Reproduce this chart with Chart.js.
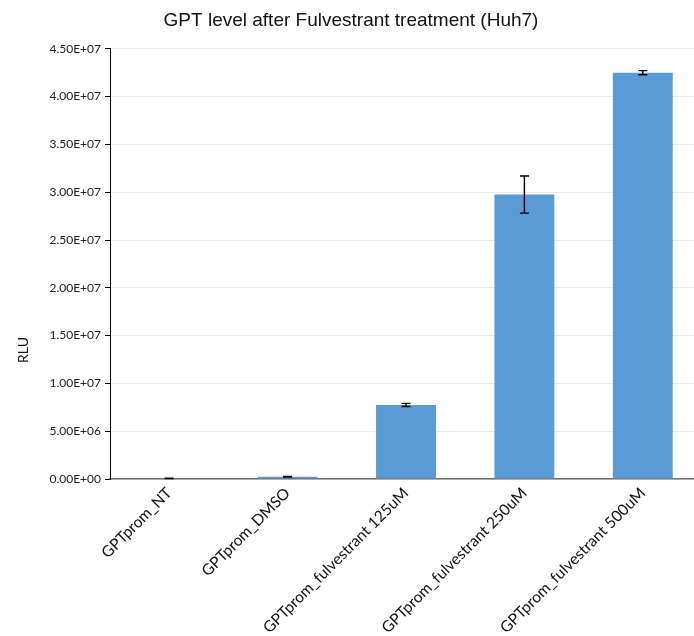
<!DOCTYPE html>
<html>
<head>
<meta charset="utf-8">
<script src="https://cdn.jsdelivr.net/npm/chart.js@4/dist/chart.umd.min.js"></script>
<style>
  html, body { margin: 0; padding: 0; background: #fff; overflow: hidden; }
  #wrap { width: 713px; height: 636px; }
</style>
</head>
<body>
<div id="wrap"><canvas id="c" width="713" height="636"></canvas></div>
<script>
// Luciferase readout (RLU) per condition, mean and error
const categories = [
  "GPTprom_NT",
  "GPTprom_DMSO",
  "GPTprom_fulvestrant 125uM",
  "GPTprom_fulvestrant 250uM",
  "GPTprom_fulvestrant 500uM"
];
const rluMean  = [60000, 230000, 7750000, 29750000, 42500000];
const rluError = [15000, 25000, 160000, 1940000, 220000];
const yTicks = { min: 0, max: 45000000, step: 5000000 };
const yAxisName = 'RLU';

// Format numbers like 4.50E+07
function sci(v) {
  return Number(v).toExponential(2).toUpperCase()
    .replace(/E([+-])(\d)$/, 'E$10$2');
}

// Draws error bars (whiskers with caps) using the chart's own scales
const errorBars = {
  id: 'errorBars',
  afterDatasetsDraw(chart) {
    const ctx = chart.ctx;
    const meta = chart.getDatasetMeta(0);
    const y = chart.scales.y;
    ctx.save();
    ctx.strokeStyle = '#000';
    ctx.lineWidth = 1.4;
    meta.data.forEach((bar, i) => {
      const x = bar.x;
      const top = y.getPixelForValue(rluMean[i] + rluError[i]);
      const bot = y.getPixelForValue(rluMean[i] - rluError[i]);
      const cap = 4.5;
      ctx.beginPath();
      ctx.moveTo(x, top); ctx.lineTo(x, bot);
      ctx.moveTo(x - cap, top); ctx.lineTo(x + cap, top);
      ctx.moveTo(x - cap, bot); ctx.lineTo(x + cap, bot);
      ctx.stroke();
    });
    ctx.restore();
  }
};

// Vertical y-axis name, set in the lower part of the value axis
const yAxisTitle = {
  id: 'yAxisTitle',
  afterDraw(chart) {
    const ctx = chart.ctx;
    const area = chart.chartArea;
    ctx.save();
    ctx.translate(23, area.bottom - 129);
    ctx.rotate(-Math.PI / 2);
    ctx.fillStyle = '#111';
    ctx.font = '14px Lato, sans-serif';
    ctx.textAlign = 'center';
    ctx.textBaseline = 'middle';
    ctx.fillText(yAxisName, 0, 0);
    ctx.restore();
  }
};

new Chart(document.getElementById('c'), {
  type: 'bar',
  data: {
    labels: categories,
    datasets: [{
      data: rluMean,
      backgroundColor: '#5b9bd5',
      borderWidth: 0,
      categoryPercentage: 1.0,
      barPercentage: 0.506
    }]
  },
  options: {
    responsive: false,
    animation: false,
    devicePixelRatio: 1,
    layout: { padding: { left: 0, right: 11, top: 0, bottom: 0 } },
    plugins: {
      legend: { display: false },
      tooltip: { enabled: false },
      title: {
        display: true,
        text: 'GPT level after Fulvestrant treatment (Huh7)',
        color: '#111',
        font: { family: '"Liberation Sans", Arial, sans-serif', size: 19, weight: 'normal' },
        padding: { top: 9, bottom: 17 }
      }
    },
    scales: {
      x: {
        grid: { display: false, drawTicks: false },
        border: { display: true, color: '#6e6e6e', width: 1.5 },
        ticks: {
          color: '#111',
          font: { family: 'Lato, sans-serif', size: 15.5 },
          maxRotation: 45, minRotation: 45,
          autoSkip: false,
          padding: 5
        },
        afterFit(scale) { scale.height = 157; }
      },
      y: {
        min: yTicks.min,
        max: yTicks.max,
        grid: { color: '#ebebeb', lineWidth: 1, tickColor: '#000', tickLength: 5 },
        border: { display: true, color: '#000', width: 1 },
        ticks: {
          stepSize: yTicks.step,
          color: '#222',
          font: { family: 'Lato, sans-serif', size: 12 },
          padding: 4,
          callback: (v) => sci(v)
        },
        afterFit(scale) { scale.width = 110; }
      }
    }
  },
  plugins: [errorBars, yAxisTitle]
});
</script>
</body>
</html>
